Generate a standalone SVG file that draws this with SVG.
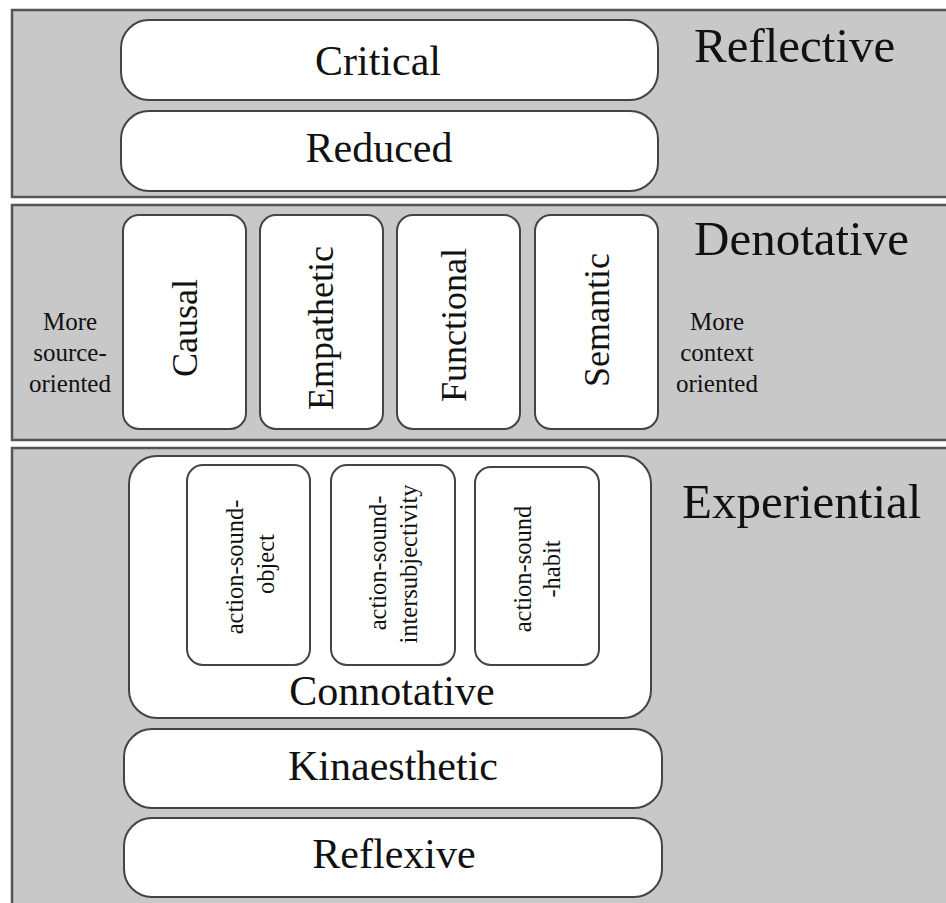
<svg xmlns="http://www.w3.org/2000/svg" width="946" height="903" viewBox="0 0 946 903">
<style>
.bandfill{fill:#c8c8c8}
.bandline{fill:none;stroke:#555;stroke-width:2.5}
.box{fill:#fff;stroke:#444;stroke-width:2}
text{font-family:"Liberation Serif","Times New Roman",serif;fill:#111}
.lbl{font-size:42px;text-anchor:middle}
.head{font-size:49px}
.vert{font-size:36px;text-anchor:middle}
.small{font-size:24.5px;text-anchor:middle}
.side{font-size:25px;text-anchor:middle}
</style>
<rect x="0" y="0" width="946" height="903" fill="#fff"/>
<g id="band-reflective">
<rect class="bandfill" x="12" y="10" width="936" height="187"/>
<path class="bandline" d="M948 10 H12 V197 H948"/>
<text class="head" x="694" y="62">Reflective</text>
</g>
<g id="band-denotative">
<rect class="bandfill" x="12" y="205" width="936" height="235"/>
<path class="bandline" d="M948 205 H12 V440 H948"/>
<text class="head" x="694" y="255">Denotative</text>
</g>
<g id="band-experiential">
<rect class="bandfill" x="12" y="448" width="936" height="457"/>
<path class="bandline" d="M948 448 H12 V905"/>
<text class="head" x="682" y="518">Experiential</text>
</g>
<g id="critical">
<rect class="box" x="121" y="20" width="537" height="80" rx="28"/>
<text class="lbl" x="378" y="75">Critical</text>
</g>
<g id="reduced">
<rect class="box" x="121" y="111" width="537" height="80" rx="28"/>
<text class="lbl" x="379" y="162">Reduced</text>
</g>
<g id="causal">
<rect class="box" x="123" y="215" width="123" height="214" rx="16"/>
<text class="vert" transform="translate(197,328) rotate(-90)">Causal</text>
</g>
<g id="empathetic">
<rect class="box" x="260" y="215" width="123" height="214" rx="16"/>
<text class="vert" transform="translate(333,328) rotate(-90)">Empathetic</text>
</g>
<g id="functional">
<rect class="box" x="397" y="215" width="123" height="214" rx="16"/>
<text class="vert" transform="translate(466,325) rotate(-90)">Functional</text>
</g>
<g id="semantic">
<rect class="box" x="535" y="215" width="123" height="214" rx="16"/>
<text class="vert" transform="translate(609,320) rotate(-90)">Semantic</text>
</g>
<g id="more-source">
<text class="side" x="70" y="330">More</text>
<text class="side" x="70" y="361">source-</text>
<text class="side" x="70" y="392">oriented</text>
</g>
<g id="more-context">
<text class="side" x="717" y="330">More</text>
<text class="side" x="717" y="361">context</text>
<text class="side" x="717" y="392">oriented</text>
</g>
<g id="connotative">
<rect class="box" x="129" y="456" width="522" height="262" rx="28"/>
<text class="lbl" x="392" y="705">Connotative</text>
</g>
<g id="action-sound-object">
<rect class="box" x="187" y="465" width="123" height="200" rx="16"/>
<text class="small" transform="translate(243,567) rotate(-90)">action-sound-</text>
<text class="small" transform="translate(274,564) rotate(-90)">object</text>
</g>
<g id="action-sound-intersubjectivity">
<rect class="box" x="331" y="465" width="124" height="200" rx="16"/>
<text class="small" transform="translate(386,563) rotate(-90)">action-sound-</text>
<text class="small" transform="translate(417,564) rotate(-90)">intersubjectivity</text>
</g>
<g id="action-sound-habit">
<rect class="box" x="475" y="467" width="124" height="198" rx="16"/>
<text class="small" transform="translate(531,569) rotate(-90)">action-sound</text>
<text class="small" transform="translate(560,569) rotate(-90)">-habit</text>
</g>
<g id="kinaesthetic">
<rect class="box" x="124" y="729" width="538" height="79" rx="28"/>
<text class="lbl" x="393" y="780">Kinaesthetic</text>
</g>
<g id="reflexive">
<rect class="box" x="124" y="818" width="538" height="79" rx="28"/>
<text class="lbl" x="394" y="868">Reflexive</text>
</g>
<g id="connectors"></g>
</svg>
